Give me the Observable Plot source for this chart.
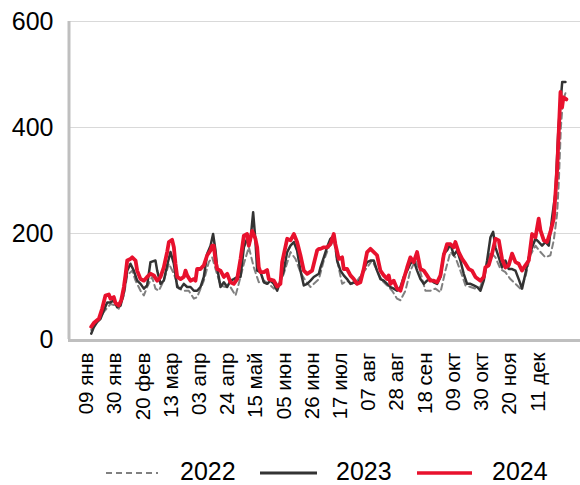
<!DOCTYPE html>
<html>
<head>
<meta charset="utf-8">
<script src="https://cdn.jsdelivr.net/npm/d3@7"></script>
<script src="https://cdn.jsdelivr.net/npm/@observablehq/plot@0.6"></script>
<style>
  body { margin: 0; background: #fff; font-family: "Liberation Sans", Arial, sans-serif; }
  #chart svg { display: block; }
</style>
</head>
<body>
<div id="chart"></div>
<script>
// ---- Tick labels (x axis: every 21 days, day-of-year index) ----
const xLabels = ["09 янв","30 янв","20 фев","13 мар","03 апр","24 апр","15 май","05 июн","26 июн","17 июл","07 авг","28 авг","18 сен","09 окт","30 окт","20 ноя","11 дек"];
const xTickDays = [8,29,50,71,92,113,134,155,176,197,218,239,260,281,302,323,344];
const yTicks = [0,200,400,600];
const seriesNames = ["2022","2023","2024"];

// ---- 2022 (grey dashed) ----
const days2022 = [11.5,15.9,20.9,25.9,29.6,32.0,35.8,38.3,42.0,44.5, 48.2,50.7,53.1,56.8,59.3,61.8,65.5,69.3,73.0,76.7, 80.4,84.1,87.9,90.3,95.3,99.0,101.5,104.0,107.7,111.4, 115.1,118.9,121.3,125.1,128.8,132.5,136.2,140.0,143.7,147.4, 151.1,154.8,159.8,163.5,167.2,170.9,174.7,178.4,180.9,184.6, 188.3,192.0,194.5,198.2,201.9,205.6,209.4,213.1,216.8,220.5, 224.2,228.0,231.7,235.4,239.1,241.6,245.3,249.0,252.8,256.5, 260.2,263.9,267.6,271.4,275.1,278.8,282.5,286.2,290.0,293.7, 297.4,301.1,304.8,308.6,312.3,316.0,319.7,323.4,327.2,330.9, 334.6,338.3,342.1,345.8,349.5,353.2,355.7,358.2,359.5,361.0, 362.5,364.4];
const vals2022 = [18,33,52,67,64,58,83,121,130,111, 92,83,99,118,96,92,111,143,124,96, 92,92,77,80,111,146,155,133,102,99, 99,83,105,143,174,136,108,111,105,96, 102,124,165,152,127,111,99,108,114,149, 174,187,149,105,111,105,111,124,136,149, 130,111,102,92,77,74,92,130,149,127, 92,92,96,89,130,165,155,130,102,99, 96,99,130,165,155,133,127,114,105,96, 118,159,177,165,155,159,187,237,300,400, 450,465];

// ---- 2023 (dark solid) ----
const days2023 = [11.5,13.4,15.9,18.4,20.9,23.4,25.9,28.3,30.8,33.3, 35.8,38.3,40.7,43.2,45.7,48.2,50.7,53.1,55.6,59.3, 60.6,63.1,65.5,68.0,70.5,73.0,75.5,78.0,80.4,82.9, 85.4,87.9,90.3,92.8,95.3,97.8,100.3,102.2,104.0,105.2, 107.7,110.2,112.7,115.1,117.6,120.1,122.6,125.1,127.5,130.0, 132.0,133.7,135.0,137.5,140.0,142.4,144.9,147.4,149.9,152.3, 154.8,157.3,159.8,162.3,164.7,167.2,169.7,172.2,174.7,177.1, 180.9,182.1,184.6,187.0,189.5,192.0,193.2,194.5,197.0,199.4, 201.9,204.4,206.9,209.4,211.8,214.3,216.8,219.3,221.8,224.2, 226.7,229.2,231.7,234.2,236.6,239.1,241.6,244.1,246.6,249.0, 251.5,254.0,256.5,259.0,261.4,263.9,266.4,268.9,271.4,273.8, 276.3,278.8,281.3,283.8,286.2,288.7,291.2,293.7,296.2,298.7, 301.1,303.6,306.1,308.6,310.6,312.3,314.8,317.2,319.7,322.2, 324.7,327.2,329.6,332.1,334.6,337.1,339.6,342.1,344.5,347.0, 349.5,352.0,354.5,356.9,359.2,362.0,364.4];
const vals2023 = [11,23,33,39,55,70,70,74,61,64, 89,130,143,130,111,105,96,102,146,149, 130,105,111,140,165,143,99,96,105,99, 99,92,92,99,118,162,177,199,168,136, 99,108,99,111,114,118,118,174,190,187, 240,187,130,127,108,105,111,105,92,111, 130,165,177,184,168,130,102,105,111,118, 124,136,155,174,190,196,180,149,130,121, 114,105,108,105,114,133,146,149,149,130, 114,111,105,99,96,92,99,118,130,143, 149,130,114,105,111,114,108,105,118,162, 168,180,159,168,149,124,105,105,102,99, 92,111,149,193,203,174,155,136,149,133, 133,130,114,96,124,155,174,190,184,177, 184,177,231,275,400,486,486];

// ---- 2024 (red) ----
const days2024 = [11.5,13.4,17.2,19.6,22.1,24.6,25.9,28.3,29.6,32.0, 33.8,35.8,37.0,38.3,40.7,42.0,44.5,45.7,48.2,50.7, 53.1,55.6,58.1,60.6,63.1,65.5,68.0,69.3,71.7,73.0, 74.2,75.5,78.0,80.4,81.7,82.9,85.4,87.9,89.1,90.3, 92.8,95.3,97.8,100.3,101.5,102.7,104.0,105.2,107.7,110.2, 112.7,115.1,117.6,120.1,122.6,125.1,127.5,128.8,131.3,133.7, 135.0,136.2,137.5,140.0,142.4,143.7,147.4,149.9,152.3,153.6, 157.3,159.8,162.3,164.7,167.2,169.7,172.2,175.9,179.6,180.9, 182.1,184.6,187.0,189.5,192.0,193.2,195.7,198.2,199.4,201.9, 204.4,206.9,209.4,211.8,214.3,216.8,219.3,221.8,224.2,226.7, 229.2,231.7,232.9,234.2,236.6,239.1,241.6,244.1,246.6,249.0, 251.5,254.0,256.5,259.0,261.4,263.9,266.4,268.9,271.4,273.8, 276.3,278.8,281.3,282.5,285.0,287.5,290.0,292.4,294.9,297.4, 301.1,303.6,304.8,307.3,309.8,312.3,314.8,317.2,319.7,322.2, 324.7,327.2,329.6,332.1,334.6,337.1,339.6,342.1,344.5,345.8, 348.3,350.7,353.2,355.7,358.2,360.7,361.9,362.9,365.1];
const vals2024 = [24,31,39,58,83,85,77,80,69,64, 74,99,121,149,152,155,149,130,114,111, 118,124,121,111,118,136,165,184,188,174, 143,118,114,118,130,121,111,114,111,133, 133,140,159,168,177,177,149,133,130,118, 124,108,105,114,152,196,199,177,205,190, 174,136,127,127,131,114,111,100,105,146, 190,187,199,184,159,130,124,130,168,171, 171,174,174,180,199,180,152,155,133,133, 121,114,105,108,133,165,171,165,159,130, 121,114,121,105,111,96,92,114,136,155, 146,165,133,130,121,111,111,108,121,159, 180,180,174,184,165,152,143,133,130,118, 111,118,136,140,162,190,187,152,136,140, 162,146,143,130,140,149,199,193,228,206, 187,184,203,228,320,467,438,457,453];

// ---- build tables ----
const toRows = (days, vals) => days.map((d, i) => ({day: d, value: vals[i]}));
const rows2022 = toRows(days2022, vals2022);
const rows2023 = toRows(days2023, vals2023);
const rows2024 = toRows(days2024, vals2024);
const labelByDay = new Map(xTickDays.map((d, i) => [d, xLabels[i]]));

const styles = {
  "2022": {stroke: "#808080", strokeWidth: 2, strokeDasharray: "6,4"},
  "2023": {stroke: "#333333", strokeWidth: 2.5, strokeDasharray: null},
  "2024": {stroke: "#e8112d", strokeWidth: 3.8, strokeDasharray: null}
};

const xDomain = [-5.4, 375.6];
const FONT = '"Liberation Sans", Arial, sans-serif';

const chart = Plot.plot({
  width: 580,
  height: 450,
  marginLeft: 68,
  marginRight: 0,
  marginTop: 21,
  marginBottom: 111,
  style: {fontFamily: FONT, background: "#fff", color: "#000"},
  x: {domain: xDomain, label: null},
  y: {domain: [0, 600], label: null},
  marks: [
    Plot.gridY(yTicks.filter(t => t > 0), {stroke: "#d9d9d9", strokeOpacity: 1, strokeWidth: 1}),
    Plot.line(rows2022, {x: "day", y: "value", ...styles["2022"], strokeLinejoin: "round"}),
    Plot.line(rows2023, {x: "day", y: "value", ...styles["2023"], strokeLinejoin: "round"}),
    Plot.line(rows2024, {x: "day", y: "value", ...styles["2024"], strokeLinejoin: "round"}),
    Plot.ruleY([0], {stroke: "#bfbfbf", strokeWidth: 3, dy: 1}),
    Plot.ruleX([xDomain[0]], {stroke: "#bfbfbf", strokeWidth: 3, dx: 0.5, y1: 0, y2: 600}),
    Plot.axisY({ticks: yTicks, tickSize: 0, tickPadding: 15, fontSize: 25, label: null, fill: "#000"}),
    Plot.axisX({ticks: xTickDays, tickFormat: d => labelByDay.get(d), tickRotate: -90, tickSize: 0, tickPadding: 13, fontSize: 20.5, label: null, fill: "#000"})
  ]
});
document.getElementById("chart").appendChild(chart);

// ---- legend below the chart ----
const legendPos = [
  {sx: 106, ex: 158, tx: 180},
  {sx: 260, ex: 317, tx: 336},
  {sx: 417, ex: 472, tx: 492}
];
const leg = d3.select("#chart").append("svg")
  .attr("width", 580).attr("height", 35)
  .style("font-family", FONT);
seriesNames.forEach((name, i) => {
  const p = legendPos[i], st = styles[name];
  leg.append("line")
    .attr("x1", p.sx).attr("x2", p.ex).attr("y1", 23).attr("y2", 23)
    .attr("stroke", st.stroke)
    .attr("stroke-width", name === "2024" ? 3.5 : (name === "2023" ? 3 : 2))
    .attr("stroke-dasharray", st.strokeDasharray);
  leg.append("text")
    .attr("x", p.tx).attr("y", 30)
    .attr("font-size", 25)
    .attr("fill", "#000")
    .text(name);
});
</script>
</body>
</html>
